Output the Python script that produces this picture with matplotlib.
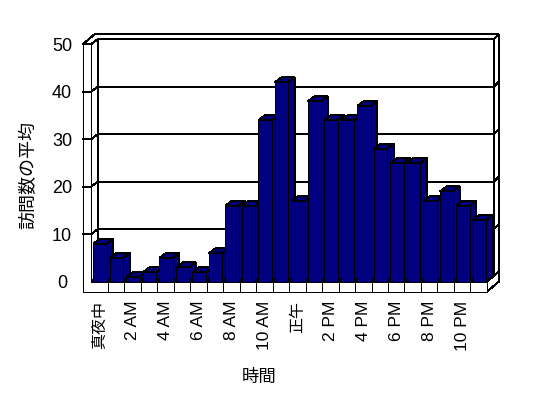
import matplotlib
matplotlib.use('Agg')
import matplotlib.pyplot as plt
from matplotlib.patches import Polygon

# ---- data ----
categories = ['真夜中', '1 AM', '2 AM', '3 AM', '4 AM', '5 AM', '6 AM', '7 AM',
              '8 AM', '9 AM', '10 AM', '11 AM', '正午', '1 PM', '2 PM', '3 PM',
              '4 PM', '5 PM', '6 PM', '7 PM', '8 PM', '9 PM', '10 PM', '11 PM']
values = [8, 5, 1, 2, 5, 3, 2, 6, 16, 16, 34, 42, 17, 38, 34, 34, 37, 28, 25, 25,
          17, 19, 16, 13]
yticks = [0, 10, 20, 30, 40, 50]
xlabel = '時間'
ylabel = '訪問数の平均'

# ---- style / geometry ----
NAVY = '#000080'
EC = 'black'
LWIDTH = 0.72
AA = False
N = len(categories)
YMAX = yticks[-1]
DX, DY = 0.406, 1.05      # depth offset (front plane -> back wall)
TX, TY = 0.30, 1.05       # wall thickness offset
LW = 0.485                # left wall thickness (categories)
FT = 2.1                  # floor thickness (value units)

fig = plt.figure(figsize=(5.48, 3.98), dpi=100)
ax = fig.add_axes([0.13595, 0.25641, 0.79790, 0.66834])
ax.set_xlim(-1, 25.5)
ax.set_ylim(-3, 53)
for s in ax.spines.values():
    s.set_visible(False)
ax.set_facecolor('none')


def poly(pts, fc='white', z=1.0):
    ax.add_patch(Polygon(pts, closed=True, fc=fc, ec=EC, lw=LWIDTH,
                         zorder=z, joinstyle='miter', antialiased=AA))


# floor top (full depth)
poly([(0, 0), (N, 0), (N + DX + TX, DY + TY), (DX + TX, DY + TY)])
# back wall front face
poly([(DX, DY), (N + DX, DY), (N + DX, YMAX + DY), (DX, YMAX + DY)])
# back wall right end face
poly([(N + DX, DY), (N + DX + TX, DY + TY), (N + DX + TX, YMAX + DY + TY),
      (N + DX, YMAX + DY)])
# top of left wall + back wall
poly([(-LW, YMAX), (0, YMAX), (DX, YMAX + DY), (N + DX, YMAX + DY),
      (N + DX + TX, YMAX + DY + TY), (-LW + DX + TX, YMAX + DY + TY)])
# left wall inner face
poly([(0, 0), (DX, DY), (DX, YMAX + DY), (0, YMAX)])
# floor right end face
poly([(N, -FT), (N + DX + TX, -FT + DY + TY), (N + DX + TX, DY + TY), (N, 0)])
# front L-shaped face (left wall + floor)
poly([(-LW, -FT), (N, -FT), (N, 0), (0, 0), (0, YMAX), (-LW, YMAX)])

# gridlines / tick marks
for v in yticks[1:-1]:
    ax.plot([-LW, 0, DX, N + DX, N + DX + TX],
            [v, v, v + DY, v + DY, v + DY + TY],
            color=EC, lw=LWIDTH, zorder=1.5, antialiased=AA)
# floor category dividers
for i in range(1, N):
    ax.plot([i, i], [-FT, 0], color=EC, lw=LWIDTH, zorder=1.5, antialiased=AA)

# bars
for i, v in enumerate(values):
    x0, x1 = i + 0.15, i + 0.95
    z = 2 + i * 0.01
    poly([(x1, 0), (x1 + DX, DY), (x1 + DX, v + DY), (x1, v)], fc=NAVY, z=z)
    poly([(x0, v), (x1, v), (x1 + DX, v + DY), (x0 + DX, v + DY)], fc=NAVY, z=z)
    poly([(x0, 0), (x1, 0), (x1, v), (x0, v)], fc=NAVY, z=z + 0.001)

# ticks
ax.set_xticks([i + 0.5 for i in range(0, N, 2)])
ax.set_xticklabels([categories[i] for i in range(0, N, 2)], rotation=90,
                   family=['Liberation Sans', 'Noto Sans CJK JP'])
ax.tick_params(axis='x', length=0, pad=3.4)
for lbl in ax.get_xticklabels():
    txt = lbl.get_text()
    lbl.set_fontsize(11.5 if any(ord(c) > 0x2000 for c in txt) else 12.5)
ax.set_yticks(yticks)
ax.set_yticklabels([str(t) for t in yticks], fontsize=13, family='Liberation Sans')
ax.tick_params(axis='y', length=0, pad=9)
for lbl in ax.get_yticklabels():
    lbl.set_ha('center')

ax.set_xlabel(xlabel, fontsize=12.5, family='Noto Sans CJK JP', va='center')
ax.xaxis.set_label_coords(0.4220, -0.3028)
ax.set_ylabel(ylabel, fontsize=13, family='Noto Sans CJK JP', va='center')
ax.yaxis.set_label_coords(-0.1057, 0.4547)

fig.savefig('out.png', dpi=100)
